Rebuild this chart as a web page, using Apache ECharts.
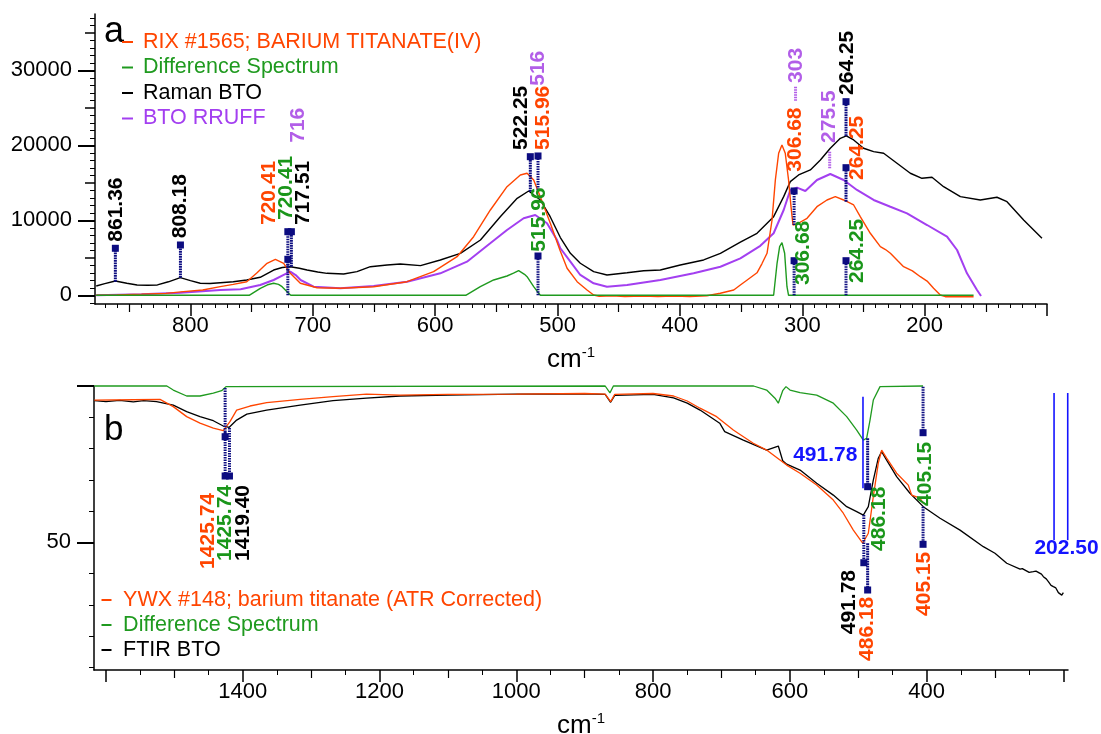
<!DOCTYPE html>
<html><head><meta charset="utf-8">
<script src="https://cdn.jsdelivr.net/npm/echarts@6/dist/echarts.min.js"></script>
<style>html,body{margin:0;padding:0;background:#fff}#c{width:1101px;height:734px}</style>
</head><body><div id="c"></div>
<script>
const FONT = '"Liberation Sans", Arial, Helvetica, sans-serif';

// ---------------- Panel a (Raman) : [wavenumber, intensity] ----------------
const rixSpectrum = [[877,0],[860,60],[840,150],[820,260],[808,450],[790,700],[775.6,1150],[765,1450],[754,1813],[746,2930],[737.4,4270],[730.6,4800],[723.8,4270],[718.4,2930],[710.2,1600],[696.5,1013],[677.5,933],[650.3,1147],[623,1813],[601.3,3147],[582.1,5147],[568.6,7813],[554.9,11373],[541.3,14480],[530.4,16040],[524.9,16267],[519.5,15373],[514.1,13147],[505.9,9600],[498,6000],[492.2,3600],[484,1813],[475.9,707],[470.5,40],[466,-120],[455,-60],[445,-180],[430,-90],[418,-170],[405,-100],[392,-160],[378,-60],[367,267],[356,707],[350.6,1373],[345,2040],[337,3000],[333,4200],[328.8,5600],[324.7,10040],[322,15373],[319.3,18933],[316.6,20040],[313.9,18933],[311.2,15373],[309.2,11813],[307.6,9373],[304.3,9507],[296.1,10267],[288,11813],[279.8,12707],[273,13147],[266.2,12707],[258,12040],[252.6,10480],[244.4,8267],[236.2,6480],[232,6100],[228,5600],[222,4600],[217.2,3813],[210,3250],[203.5,2480],[198,1900],[192.7,933],[187.2,40],[183.1,-187],[160,-187]];
const diffRaman = [[877,0],[752,0],[742.9,933],[737,1400],[732,1600],[728,1450],[725.1,1147],[719.8,267],[718,0],[575,0],[563.1,1147],[552.2,2040],[541.3,2573],[536,2950],[531.8,3280],[527,2800],[524.9,2480],[519.5,1147],[515.4,267],[514,0],[323.4,0],[320.6,4267],[318.5,6480],[316.6,7013],[314.4,5600],[312.5,1147],[311.2,0],[160,0]];
const ramanBTO = [[877,1240],[870,1550],[861.4,1900],[852,1600],[843.6,1370],[835,1330],[827,1380],[818,1800],[808.3,2350],[800,1950],[792,1600],[784,1580],[775.6,1680],[765,1800],[754,2040],[743,2400],[732,3370],[725,3700],[718.4,3810],[711,3600],[704.7,3370],[696,3100],[688.4,2930],[674.8,2840],[663.9,3150],[653,3810],[639.3,4040],[628.5,4170],[612,3950],[595.8,4710],[579.4,5600],[563,7370],[546.8,10480],[533,12930],[523.6,13900],[514,12700],[506,10480],[497.7,7700],[489.5,5600],[481.4,4270],[470.5,3150],[459.6,2710],[443.2,3010],[429.6,3280],[416,3370],[399.7,4040],[380.6,4710],[366.9,5600],[350.6,7100],[337,8270],[323.4,10480],[315.2,13150],[309.8,15150],[303,16040],[293.4,16710],[285.2,18040],[277.1,19600],[268.9,20930],[264,21240],[258,20710],[249.9,19600],[241.7,19150],[233.5,18930],[222.6,17600],[211.7,16270],[202.2,15600],[194,15730],[184.5,14480],[170.8,13150],[154.5,12710],[140.9,13070],[132.7,12480],[119.1,10040],[104.1,7600]];
const rruffBTO = [[877,0],[840,150],[808,350],[775.6,710],[759,800],[743,1370],[732,2040],[723.8,2710],[718.4,3150],[714,2700],[710,2040],[699.3,1150],[677.5,930],[650.3,1240],[623,1810],[595.8,2930],[574,4480],[555,6930],[541.3,8710],[527.7,10270],[518.2,10710],[508.6,9600],[500.4,7370],[497.7,6270],[489.5,4500],[481.4,2710],[470.5,1600],[459.6,1150],[443.2,1370],[416,2040],[388.8,2930],[366.9,3810],[350.6,4930],[334.3,6600],[323.4,8270],[315.2,11370],[309.8,14040],[304.3,14350],[297.5,13910],[288,15370],[277.1,16170],[266.2,15370],[255.3,14040],[241.7,12710],[228,11810],[214.4,10930],[198,9370],[181.7,7810],[173.5,6040],[165.4,2930],[157.2,710],[153.9,-90]];

// peak picks, panel a
const ramanPeakPos   = [861.36, 808.18, 720.41, 720.41, 717.51, 522.25, 515.96, 515.96, 306.68, 264.25, 264.25, 306.68, 264.25];
const ramanPeakBase  = [1813, 2347, 3280, 0, 3813, 13813, 14040, 0, 9373, 21240, 12480, 0, 0];
const ramanPeakTop   = [6267, 6707, 4800, 8480, 8480, 18480, 18573, 5240, 13907, 25813, 17013, 4613, 4613];
const ramanPeakLabel = ['861.36','808.18','720.41','720.41','717.51','522.25','515.96','515.96','306.68','264.25','264.25','306.68','264.25'];
const ramanPeakOf    = ['raman','raman','rix','diff','raman','raman','rix','diff','rix','raman','rix','diff','diff'];
const rruffPeakPos   = [716, 516, 305.5, 277.6];
const rruffPeakTop   = [20200, 27800, 27813, 19147];
const rruffPeakBottom= [20200, 27800, 25813, 16933];
const rruffPeakLabel = ['716','516','303','275.5'];

// ---------------- Panel b (FTIR) : [wavenumber, transmittance] ----------------
const ywxSpectrum = [[1617,95.5],[1560,95.6],[1521,95.7],[1501.6,93.4],[1482,90.2],[1462.5,88.1],[1443,86.5],[1428.5,85.7],[1418.7,88.6],[1408.9,92.3],[1389.4,93.6],[1365,94.7],[1316,95.7],[1268,96.6],[1219,97.4],[1170,97.1],[1100,97.3],[1000,97.4],[900,97.6],[870,97.4],[862,95],[856,97.3],[800,97.6],[770,96.8],[750,95.2],[731.3,92.9],[707,90.2],[682.6,85.9],[675,84.8],[672.8,84.3],[653.4,81.7],[633.9,79.5],[604.6,74.7],[585,72.1],[560.7,68.3],[536.4,63.5],[521.8,59.3],[507.1,53.9],[493.4,49.7],[485.2,52.9],[477.9,64.6],[470.6,75.3],[465.7,79.5],[458.4,76.9],[443.8,72.1],[426.7,68.3],[421.8,65.1],[409.7,64.1],[405,62.5]];
const diffFTIR = [[1617,100],[1511,100],[1501.6,98.7],[1482,96.8],[1462.5,96.8],[1443,97.7],[1430.8,98.5],[1424.5,99.8],[1424,100],[870,100],[863,97.8],[858,100],[653,100],[633.9,98.7],[621.7,96.1],[616.8,94.5],[610.4,98.5],[605.6,99.8],[599.7,98.7],[585,97.9],[560.7,97.1],[536.4,94.5],[516.8,90.2],[502.2,85.9],[492.5,82.7],[487.6,83.3],[482.7,89.1],[477.9,95.5],[468.1,99.8],[467,100],[405.15,100]];
const ftirBTO = [[1617,95.3],[1600,95.0],[1580,95.4],[1560,94.9],[1545,95.3],[1526,95.0],[1501.6,93.9],[1482,91.8],[1462.5,90.2],[1443,88.9],[1428.5,87.2],[1419.7,86.8],[1408.9,89.1],[1394,91.0],[1365,92.3],[1316,93.9],[1268,95.3],[1219,96.1],[1170,96.8],[1100,97.1],[1000,97.4],[900,97.5],[870,97.3],[862,94.8],[856,97.0],[800,97.3],[770,96.2],[750,94.5],[731.3,92.3],[702.5,88.1],[695.2,85.4],[668,82.7],[633.9,79.5],[616.8,80.8],[610.4,76.1],[604.6,75.0],[585,73.1],[560.7,68.9],[536.4,65.1],[516.8,61.4],[502.2,59.8],[492.5,58.7],[485.2,61.4],[477.9,69.9],[470.6,76.9],[465.7,79.0],[458.4,76.3],[443.8,71.0],[424.3,65.7],[404.8,61.4],[380.3,57.7],[351.1,53.9],[317,48.6],[300,46.5],[282.8,43.3],[263.3,41.4],[260,41.6],[250,40.4],[243.9,40.6],[240,40.8],[232,39.8],[229.2,39.0],[225,38.3],[221.9,37.4],[218,36.2],[214.6,35.8],[211,35.4],[207.3,33.9],[205,33.5],[202.3,33.1],[200,33.9]];

const ftirPeakPos   = [1425.74, 1425.74, 1419.40, 486.18, 491.78, 486.18, 405.15, 405.15];
const ftirPeakBase  = [85.28, 99.36, 86.56, 83.27, 58.73, 49.68, 99.78, 61.39];
const ftirPeakTop   = [71.21, 83.78, 71.21, 67.79, 43.47, 34.74, 85.06, 49.36];
const ftirPeakLabel = ['1425.74','1425.74','1419.40','486.18','491.78','486.18','405.15','405.15'];
const ftirPeakOf    = ['ywx','diff','ftir','diff','ftir','ywx','diff','ywx'];
const cursorLines   = [[493, 96.58, 67.27], [213.6, 97.76, 50.7], [193.6, 97.76, 50.7]];
const cursorLabelPos = [[493, 77.9], [203.5, 48.1]];
const cursorLabel   = ['491.78', '202.50'];

// ---------------- tick values ----------------
const aXLabels = [800, 700, 600, 500, 400, 300, 200];
const aYLabels = [0, 10000, 20000, 30000];
const bXLabels = [1400, 1200, 1000, 800, 600, 400];
const bYLabels = [50];

// ---------------- styles ----------------
const COLORS = {rix:'#ff4500', diff:'#1f9a1f', raman:'#000000', rruff:'#a33ff0', ywx:'#ff4500', ftir:'#000000'};
const LABEL_COLORS = {rix:'#ff4500', diff:'#1a961a', raman:'#000000', rruff:'#b25ee8', ywx:'#ff4500', ftir:'#000000'};
const NAVY = '#0c0c80';
const BLUE = '#1414ff';
// label offsets (px) relative to the square marker
const ramanLabelShift = [[0.5,-6.6],[0,-6.7],[-18.5,-34.3],[-1.8,-11.7],[12,-6.7],[-9.5,-6.7],[5.3,-6],[1.3,-4.3],[1.2,-19.3],[0.8,-6.7],[10.8,12.3],[9.2,24.3],[10.8,22.3]];
const rruffLabelShift = [[5,-1],[0.6,-1],[0.7,-3.7],[-0.3,-8.7]];
const ftirLabelShift  = [[-17.2,17],[-0.2,48.3],[13.5,9],[11.4,0],[-14.8,7.3],[-0.1,6.7],[2,9],[1,7.4]];
const cursorLabelShift = [[-5.6,0,'right'],[5.6,0,'center']];

function range(a, b, step, skip) { const r = []; for (let v = a; v <= b + 1e-9; v += step) { if (!skip || !skip(v)) r.push(v); } return r; }

const LBL = {fontSize: 22, color: '#000', fontFamily: FONT, formatter: v => String(v)};
const axisName = {
  name: '{a|cm}{b|-1}', nameLocation: 'middle', nameGap: 41,
  nameTextStyle: {rich: {a: {fontSize: 26, fontFamily: FONT, color: '#000', lineHeight: 30}, b: {fontSize: 15, fontFamily: FONT, color: '#000', lineHeight: 30, padding: [0, 0, 14, 0]}}}
};

function xAx(grid, min, max, ticks, len, w, labels, main) {
  const o = {
    type: 'value', gridIndex: grid, min: min, max: max, inverse: true, position: 'bottom', offset: 0,
    axisLine: {show: !!main, onZero: false, lineStyle: {color: '#000', width: 1.5}},
    axisTick: {show: true, customValues: ticks, length: len, lineStyle: {color: '#000', width: w}},
    axisLabel: labels ? Object.assign({customValues: labels, margin: 11}, LBL) : {show: false},
    splitLine: {show: false}, silent: true
  };
  if (main) Object.assign(o, axisName);
  return o;
}
function yAx(grid, min, max, ticks, len, w, labels, main) {
  return {
    type: 'value', gridIndex: grid, min: min, max: max, position: 'left', offset: 0,
    axisLine: {show: !!main, onZero: false, lineStyle: {color: '#000', width: 1.5}},
    axisTick: {show: true, customValues: ticks, length: len, lineStyle: {color: '#000', width: w}},
    axisLabel: labels ? Object.assign({customValues: labels, margin: 23}, LBL) : {show: false},
    splitLine: {show: false}, silent: true
  };
}

const A_XMIN = 100, A_XMAX = 878, A_YMIN = -1160, A_YMAX = 37500;
const B_XMIN = 193.2, B_XMAX = 1617.5, B_YMIN = 9.15, B_YMAX = 100;

const xAxes = [
  xAx(0, A_XMIN, A_XMAX, range(100, 800, 100), 12, 1.5, aXLabels, true),
  xAx(0, A_XMIN, A_XMAX, range(150, 850, 100), 8, 1.2),
  xAx(0, A_XMIN, A_XMAX, range(110, 870, 10, v => Math.round(v) % 50 === 0), 4, 1),
  xAx(1, B_XMIN, B_XMAX, range(200, 1600, 200), 12, 1.5, bXLabels, true),
  xAx(1, B_XMIN, B_XMAX, range(300, 1500, 200), 8, 1.2),
  xAx(1, B_XMIN, B_XMAX, range(250, 1550, 100), 5, 1)
];
const yAxes = [
  yAx(0, A_YMIN, A_YMAX, aYLabels, 17, 2, aYLabels, true),
  yAx(0, A_YMIN, A_YMAX, range(5000, 35000, 10000), 10, 1.5),
  yAx(0, A_YMIN, A_YMAX, range(-1000, 37000, 1000, v => Math.round(v) % 5000 === 0), 5, 1),
  yAx(1, B_YMIN, B_YMAX, [50, 100], 17, 2, bYLabels, true),
  yAx(1, B_YMIN, B_YMAX, range(10, 90, 10, v => v === 50), 5, 1)
];

function lineSeries(name, data, key, xi, yi, w) {
  return {type: 'line', name: name, data: data, xAxisIndex: xi, yAxisIndex: yi, color: COLORS[key],
    showSymbol: false, symbol: 'none', clip: false, silent: true, animation: false,
    itemStyle: {color: COLORS[key]}, lineStyle: {color: COLORS[key], width: w}};
}

function rotText(x, y, text, color, align) {
  return {type: 'text', x: x, y: y, rotation: Math.PI / 2,
    style: {text: text, fill: color, font: 'bold 21px ' + FONT, align: align, verticalAlign: 'middle'}};
}

function peakSeries(pos, base, top, labels, of, shift, xi, yi, upward) {
  return {type: 'custom', xAxisIndex: xi, yAxisIndex: yi, z: 10, silent: true, animation: false, clip: false,
    data: pos.map((p, i) => [p, base[i], top[i]]),
    renderItem: function (params, api) {
      const i = params.dataIndex;
      const p0 = api.coord([api.value(0), api.value(1)]);
      const p1 = api.coord([api.value(0), api.value(2)]);
      const s = shift[i];
      return {type: 'group', children: [
        {type: 'line', shape: {x1: p0[0], y1: p0[1], x2: p1[0], y2: p1[1]}, style: {stroke: NAVY, lineWidth: 3, lineDash: [1.6, 0.9]}},
        {type: 'rect', shape: {x: p1[0] - 3.5, y: p1[1] - 3.5, width: 7, height: 7}, style: {fill: NAVY}},
        rotText(p1[0] + s[0], p1[1] + s[1], labels[i], LABEL_COLORS[of[i]], upward ? 'left' : 'right')
      ]};
    }};
}

const rruffSeries = {type: 'custom', xAxisIndex: 0, yAxisIndex: 0, z: 9, silent: true, animation: false, clip: false,
  data: rruffPeakPos.map((p, i) => [p, rruffPeakTop[i], rruffPeakBottom[i]]),
  renderItem: function (params, api) {
    const i = params.dataIndex;
    const p0 = api.coord([api.value(0), api.value(1)]);
    const p1 = api.coord([api.value(0), api.value(2)]);
    const s = rruffLabelShift[i];
    const ch = [rotText(p0[0] + s[0], p0[1] + s[1], rruffPeakLabel[i], LABEL_COLORS.rruff, 'left')];
    if (p1[1] - p0[1] > 1) ch.push({type: 'line', shape: {x1: p0[0], y1: p0[1], x2: p1[0], y2: p1[1]}, style: {stroke: LABEL_COLORS.rruff, lineWidth: 3, lineDash: [1.6, 0.9]}});
    return {type: 'group', children: ch};
  }};

const cursorSeries = {type: 'custom', xAxisIndex: 3, yAxisIndex: 3, z: 9, silent: true, animation: false, clip: false,
  data: cursorLines,
  renderItem: function (params, api) {
    const i = params.dataIndex;
    const p0 = api.coord([api.value(0), api.value(1)]);
    const p1 = api.coord([api.value(0), api.value(2)]);
    const ch = [{type: 'line', shape: {x1: p0[0], y1: p0[1], x2: p1[0], y2: p1[1]}, style: {stroke: BLUE, lineWidth: 1.6}}];
    if (i < cursorLabel.length) {
      const q = api.coord(cursorLabelPos[i]);
      const s = cursorLabelShift[i];
      ch.push({type: 'text', x: q[0] + s[0], y: q[1] + s[1], style: {text: cursorLabel[i], fill: BLUE, font: 'bold 21px ' + FONT, align: s[2], verticalAlign: 'middle'}});
    }
    return {type: 'group', children: ch};
  }};

const legendBase = {orient: 'vertical', icon: 'rect', itemHeight: 2, itemGap: 0, padding: 0, selectedMode: false};

const option = {
  animation: false,
  backgroundColor: '#fff',
  grid: [
    {left: 95, top: 14, width: 952, height: 290, outerBoundsMode: 'none', containLabel: false},
    {left: 94, top: 386, width: 974, height: 284, outerBoundsMode: 'none', containLabel: false}
  ],
  xAxis: xAxes,
  yAxis: yAxes,
  legend: [
    Object.assign({}, legendBase, {left: 122, top: 29.25, itemWidth: 11,
      textStyle: {fontSize: 21.5, fontFamily: FONT, lineHeight: 25.5, padding: [0, 0, 0, 5]},
      data: [
        {name: 'RIX #1565; BARIUM TITANATE(IV)', textStyle: {color: COLORS.rix}},
        {name: 'Difference Spectrum', textStyle: {color: COLORS.diff}},
        {name: 'Raman BTO', textStyle: {color: COLORS.raman}},
        {name: 'BTO RRUFF', textStyle: {color: COLORS.rruff}}
      ]}),
    Object.assign({}, legendBase, {left: 101.5, top: 587.5, itemWidth: 10,
      textStyle: {fontSize: 21.5, fontFamily: FONT, lineHeight: 25, padding: [0, 0, 0, 6.6]},
      data: [
        {name: 'YWX #148; barium titanate (ATR Corrected)', textStyle: {color: COLORS.ywx}},
        {name: 'Difference Spectrum ', textStyle: {color: COLORS.diff}},
        {name: 'FTIR BTO', textStyle: {color: COLORS.ftir}}
      ]})
  ],
  graphic: [
    {type: 'text', x: 104, y: 32, style: {text: 'a', font: '36px ' + FONT, fill: '#000', verticalAlign: 'middle'}},
    {type: 'text', x: 104, y: 430, style: {text: 'b', font: '35px ' + FONT, fill: '#000', verticalAlign: 'middle'}}
  ],
  series: [
    lineSeries('BTO RRUFF', rruffBTO, 'rruff', 0, 0, 2),
    lineSeries('Raman BTO', ramanBTO, 'raman', 0, 0, 1.4),
    lineSeries('RIX #1565; BARIUM TITANATE(IV)', rixSpectrum, 'rix', 0, 0, 1.4),
    lineSeries('Difference Spectrum', diffRaman, 'diff', 0, 0, 1.4),
    rruffSeries,
    peakSeries(ramanPeakPos, ramanPeakBase, ramanPeakTop, ramanPeakLabel, ramanPeakOf, ramanLabelShift, 0, 0, true),
    lineSeries('FTIR BTO', ftirBTO, 'ftir', 3, 3, 1.3),
    lineSeries('YWX #148; barium titanate (ATR Corrected)', ywxSpectrum, 'ywx', 3, 3, 1.3),
    lineSeries('Difference Spectrum ', diffFTIR, 'diff', 3, 3, 1.3),
    cursorSeries,
    peakSeries(ftirPeakPos, ftirPeakBase, ftirPeakTop, ftirPeakLabel, ftirPeakOf, ftirLabelShift, 3, 3, false)
  ]
};

const chart = echarts.init(document.getElementById('c'), null, {renderer: 'canvas'});
chart.setOption(option);
</script></body></html>
